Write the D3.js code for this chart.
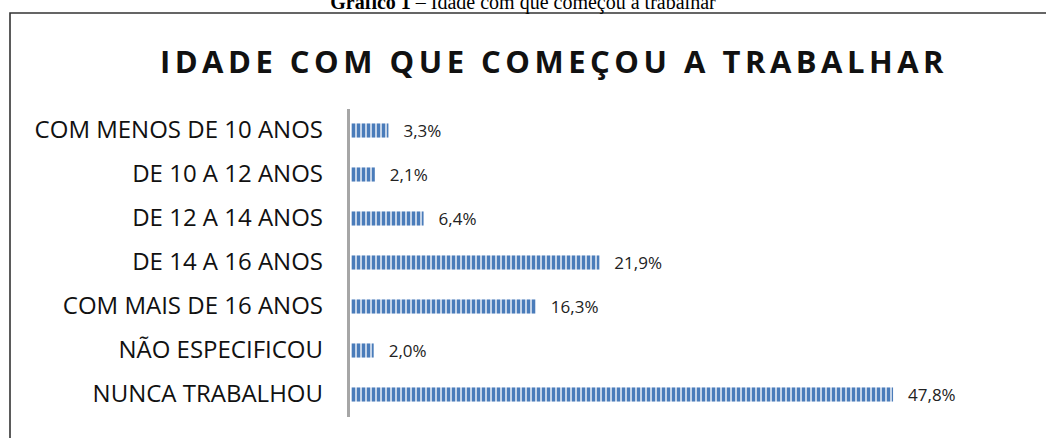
<!DOCTYPE html>
<html>
<head>
<meta charset="utf-8">
<script src="https://cdn.jsdelivr.net/npm/d3@7"></script>
<style>
  html, body { margin: 0; padding: 0; background: #fff; }
  svg { display: block; }
</style>
</head>
<body>
<div class="container"></div>
<script>
const WIDTH = 1046;
const HEIGHT = 438;

const categories = ["COM MENOS DE 10 ANOS", "DE 10 A 12 ANOS", "DE 12 A 14 ANOS", "DE 14 A 16 ANOS",
                    "COM MAIS DE 16 ANOS", "NÃO ESPECIFICOU", "NUNCA TRABALHOU"];
const values = [3.3, 2.1, 6.4, 21.9, 16.3, 2.0, 47.8];
const xDomain = [0, 50];
const chartTitle = "IDADE COM QUE COMEÇOU A TRABALHAR";

const ptBR = d3.formatLocale({decimal: ",", thousands: ".", grouping: [3], currency: ["R$", ""]});
const fmt = function(v){ return ptBR.format(".1f")(v) + "%"; };

var translate = function(x, y){
    return "translate(" + x + "," + y + ")";
};

var xScale = d3.scaleLinear()
    .domain(xDomain)
    .range([0, 567]);

var yScale = d3.scaleBand()
    .domain(categories)
    .range([108.5, 416.5])
    .paddingInner(0.68)
    .paddingOuter(0.34);

var svg = d3.select('.container').append('svg')
    .attr('width', WIDTH)
    .attr('height', HEIGHT);

// stripe fill of the bars
var pat = svg.append('defs').append('pattern')
    .attr('id', 'stripes')
    .attr('patternUnits', 'userSpaceOnUse')
    .attr('width', 5)
    .attr('height', 10);
pat.append('rect').attr('width', 5).attr('height', 10).attr('fill', '#c3d3e8');
pat.append('rect').attr('x', 1).attr('width', 3).attr('height', 10).attr('fill', '#4a7cba');

// frame of the figure
svg.append('path')
    .attr('d', 'M10,' + HEIGHT + 'V13H' + WIDTH)
    .attr('fill', 'none')
    .attr('stroke', '#333')
    .attr('stroke-width', 1.6);

// caption above the frame (cut off at the top, as in the source)
var cap = svg.append('text')
    .attr('x', 523)
    .attr('y', 9)
    .attr('text-anchor', 'middle')
    .style('font-family', '"Liberation Serif", "Times New Roman", serif')
    .style('font-size', '20px')
    .attr('fill', '#000');
cap.append('tspan').style('font-weight', 'bold').text('Gráfico 1');
cap.append('tspan').text(' – Idade com que começou a trabalhar');

svg.append('text')
    .attr('x', 554)
    .attr('y', 73)
    .attr('text-anchor', 'middle')
    .style('font-family', '"Open Sans", sans-serif')
    .style('font-size', '31px')
    .style('font-weight', 'bold')
    .style('letter-spacing', '4.5px')
    .attr('fill', '#111')
    .text(chartTitle);

var plot = svg.append('g').attr('transform', translate(351, 0));

plot.selectAll('rect.bar')
    .data(values)
    .enter()
    .append('rect')
    .classed('bar', true)
    .attr('x', xScale(0))
    .attr('y', function(d, i){ return yScale(categories[i]); })
    .attr('width', function(d){ return xScale(d) - xScale(0); })
    .attr('height', yScale.bandwidth())
    .attr('fill', 'url(#stripes)');

plot.selectAll('text.val')
    .data(values)
    .enter()
    .append('text')
    .classed('val', true)
    .attr('x', function(d){ return xScale(d) + 15; })
    .attr('y', function(d, i){ return yScale(categories[i]) + yScale.bandwidth() / 2; })
    .attr('dy', '0.36em')
    .style('font-family', '"Open Sans", sans-serif')
    .style('font-size', '17px')
    .attr('fill', '#222')
    .text(fmt);

var yAxis = d3.axisLeft(yScale).tickSize(0).tickPadding(25);
var axisG = svg.append('g')
    .attr('transform', translate(348, 0))
    .call(yAxis);
axisG.select('.domain')
    .attr('stroke', '#a6a6a6')
    .attr('stroke-width', 3);
axisG.selectAll('text')
    .style('font-family', '"Open Sans", sans-serif')
    .style('font-size', '24px')
    .attr('fill', '#111');
</script>
</body>
</html>
